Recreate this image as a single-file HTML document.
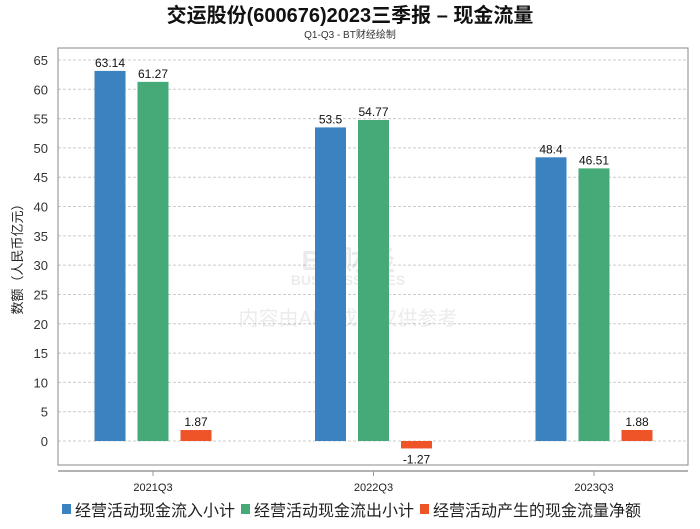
<!DOCTYPE html>
<html><head><meta charset="utf-8"><style>
body{margin:0;background:#fff;font-family:"Liberation Sans","Noto Sans CJK SC",sans-serif;}
svg text{font-family:"Liberation Sans","Noto Sans CJK SC",sans-serif;}
</style></head><body>
<svg id="chart" width="700" height="524">
<text x="350" y="22" text-anchor="middle" font-size="20" font-weight="bold" fill="#111">交运股份(600676)2023三季报 – 现金流量</text>
<text x="350" y="38" text-anchor="middle" font-size="10" fill="#333">Q1-Q3 - BT财经绘制</text>
<g id="grid"></g>
<rect x="58" y="48" width="630" height="417" fill="none" stroke="#888"/>
<line x1="58" y1="471" x2="688" y2="471" stroke="#999" stroke-width="1.5"/>
<text transform="translate(22,256) rotate(-90)" text-anchor="middle" font-size="13" fill="#222">数额（人民币亿元）</text>
<g opacity="0.09">
<text x="348" y="270" text-anchor="middle" font-size="28" font-weight="bold" fill="#333">BT财经</text>
<text x="348" y="285" text-anchor="middle" font-size="14" font-weight="bold" fill="#333">BUSINESSTIMES</text>
<text x="348" y="325" text-anchor="middle" font-size="20" fill="#333">内容由AI生成，仅供参考</text>
</g>
<g id="bars"></g>
<g id="legend"></g>
</svg>
<script>
const categories=["2021Q3","2022Q3","2023Q3"];
const seriesNames=["经营活动现金流入小计","经营活动现金流出小计","经营活动产生的现金流量净额"];
const inflow=[63.14,53.5,48.4];
const outflow=[61.27,54.77,46.51];
const net=[1.87,-1.27,1.88];
const yTicks=[0,5,10,15,20,25,30,35,40,45,50,55,60,65];
const colors=["#3a82c0","#46aa78","#ee5428"];
const NS="http://www.w3.org/2000/svg";
const y=v=>441-v*(381/65);
const x=i=>153+i*220.5;
function mk(t,a,p){const e=document.createElementNS(NS,t);for(const k in a)e.setAttribute(k,a[k]);p.appendChild(e);return e;}
const grid=document.getElementById('grid');
yTicks.forEach(t=>{
 const l=mk('line',{x1:58,x2:688,y1:y(t),y2:y(t),stroke:'#ccc','stroke-dasharray':'3,2'},grid);
 
 
 const tx=mk('text',{x:48,y:y(t)+5,'text-anchor':'end','font-size':13,fill:'#333'},grid);
 tx.textContent=t;
 
 
});
const bars=document.getElementById('bars');
const series=[inflow,outflow,net];
categories.forEach((c,i)=>{
 const tk=mk('line',{x1:x(i),x2:x(i),y1:471,y2:476,stroke:'#999'},bars);
 
 
 const lb=mk('text',{x:x(i),y:491,'text-anchor':'middle','font-size':11,fill:'#222'},bars);
 lb.textContent=c;
 
 
 series.forEach((s,j)=>{
  const v=s[i];const cx=x(i)+(j-1)*43;
  const top=Math.min(y(v),y(0)),h=Math.abs(y(v)-y(0));
  const r=mk('rect',{x:cx-15.5,y:top,width:31,height:h,fill:colors[j]},bars);
  
  
  const vt=mk('text',{x:cx,y:v>=0?top-4:top+h+15,'text-anchor':'middle','font-size':12,fill:'#111'},bars);
  vt.textContent=v;
  
  
 });
});
const lg=document.getElementById('legend');
let lx=62;
seriesNames.forEach((n,j)=>{
 const g=mk('g',{},lg);
 
 
 mk('rect',{x:lx,y:504,width:9,height:10,fill:colors[j]},g);
 const t=mk('text',{x:lx+13,y:516,'font-size':16,fill:'#222'},g);
 t.textContent=n;
 lx+=13+n.length*16+6;
});
</script>
</body></html>
